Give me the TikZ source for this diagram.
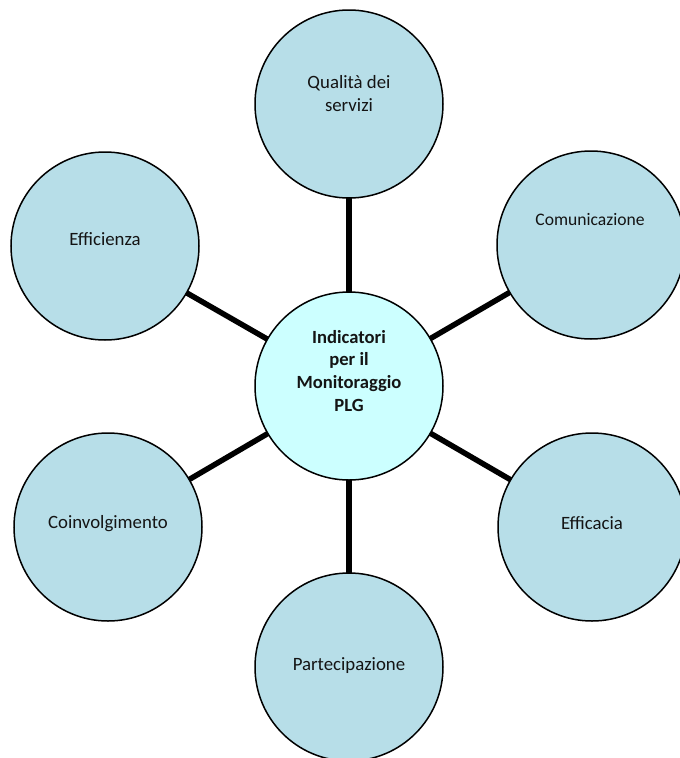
\documentclass[tikz,border=0pt]{standalone}
\usepackage{fontspec}
\setmainfont{Carlito}
\definecolor{outerfill}{RGB}{183,222,232}
\definecolor{hubfill}{RGB}{204,255,255}
\definecolor{txt}{RGB}{20,20,20}
\begin{document}
\begin{tikzpicture}[x=1pt,y=-1pt,
  bub/.style={circle,draw=black,line width=1.5pt,fill=outerfill,minimum size=188pt,inner sep=0pt,outer sep=0pt},
  hub/.style={bub,fill=hubfill},
  lbl/.style={font=\fontsize{18.8}{23}\selectfont,text=txt,align=center,inner sep=0pt,anchor=base},
  hublbl/.style={lbl,font=\fontsize{18.6}{22.6}\selectfont\bfseries},
  spoke/.style={line width=5.5pt}]
\useasboundingbox (0,0) rectangle (680,758);
\clip (0,0) rectangle (680,758);
\fill[white] (0,0) rectangle (680,758);
% circles
\node[hub] (c) at (349,386) {};
\node[bub] (q) at (349,104) {};
\node[bub] (com) at (591,245) {};
\node[bub] (eff) at (105,246) {};
\node[bub] (coi) at (108,527) {};
\node[bub] (efc) at (592,527) {};
\node[bub] (par) at (349,667) {};
% spokes
\draw[spoke] (c) -- (q);
\draw[spoke] (c) -- (com);
\draw[spoke] (c) -- (eff);
\draw[spoke] (c) -- (coi);
\draw[spoke] (c) -- (efc);
\draw[spoke] (c) -- (par);
% labels
\node[lbl] (tq) at (349,111) {Qualità dei\\servizi};
\node[lbl,font=\fontsize{17.6}{21}\selectfont] (tcom) at (590,225.5) {Comunicazione};
\node[lbl] (teff) at (105,245) {Efficienza};
\node[lbl] (tcoi) at (108,528) {Coinvolgimento};
\node[lbl] (tefc) at (592,529) {Efficacia};
\node[lbl] (tpar) at (349,670) {Partecipazione};
\node[hublbl] (tc) at (349,411) {Indicatori\\per il\\Monitoraggio\\PLG};
\end{tikzpicture}
\end{document}
